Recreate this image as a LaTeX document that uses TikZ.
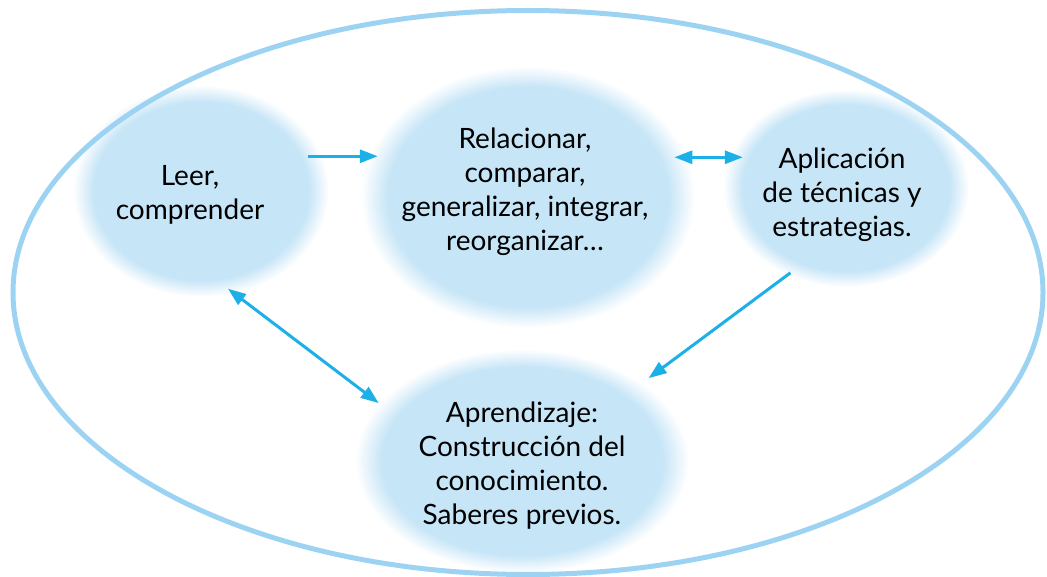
\documentclass[tikz,border=0pt]{standalone}
\usepackage{fontspec}
\setmainfont{Lato}
\usetikzlibrary{shapes,arrows.meta}

\definecolor{blobc}{HTML}{C6E5F7}
\definecolor{linec}{HTML}{9DD3F2}
\definecolor{arrc}{HTML}{1DB0E6}
\pgfdeclareradialshading{blob}{\pgfpoint{0bp}{0bp}}{color(0bp)=(blobc); color(21bp)=(blobc); color(25bp)=(white); color(50bp)=(white)}

\begin{document}
\begin{tikzpicture}[
x=1pt,
y=-1pt,
font=\fontsize{28}{34}\selectfont
]

\tikzstyle{bl} = [ellipse, shading=blob, inner sep=0pt]
\tikzstyle{tx} = [align=center, inner sep=0pt]
\tikzstyle{ar} = [draw=arrc, line width=3pt, -{Triangle[length=18pt,width=13pt]}]
\tikzstyle{dar} = [draw=arrc, line width=3pt, {Triangle[length=18pt,width=13pt]}-{Triangle[length=18pt,width=13pt]}]

\useasboundingbox (0,0) rectangle (1047,577);

% blobs
\node[bl, minimum width=256pt, minimum height=212pt] (L) at (201,191) {};
\node[bl, minimum width=334pt, minimum height=262pt] (R) at (528,197) {};
\node[bl, minimum width=246pt, minimum height=198pt] (A) at (846,188) {};
\node[bl, minimum width=334pt, minimum height=224pt] (P) at (522,461) {};

% outer ellipse
\node[ellipse, draw=linec, line width=5pt, minimum width=1030pt, minimum height=564pt] (O) at (528,292.5) {};

% texts
\node[tx] (l) at (190,195) {Leer,\\comprender};
\node[tx] (r) at (525,192) {Relacionar,\\comparar,\\generalizar, integrar,\\reorganizar…};
\node[tx] (a) at (842,195) {Aplicación\\de técnicas y\\estrategias.};
\node[tx] (p) at (522,466) {Aprendizaje:\\Construcción del\\conocimiento.\\Saberes previos.};

% arrows
\draw[ar, shorten <=-14pt, shorten >=-8pt] (L.16) -- (R.165 |- L.16);
\draw[dar, shorten <=-13pt, shorten >=-12pt] (R.14.5) -- (A.163 |- R.14.5);
\draw[ar, shorten <=-4pt, shorten >=8pt] (A.236) -- (P.33);
\draw[dar, shorten <=-8pt] (L.288) -- (P.158);

\end{tikzpicture}
\end{document}
